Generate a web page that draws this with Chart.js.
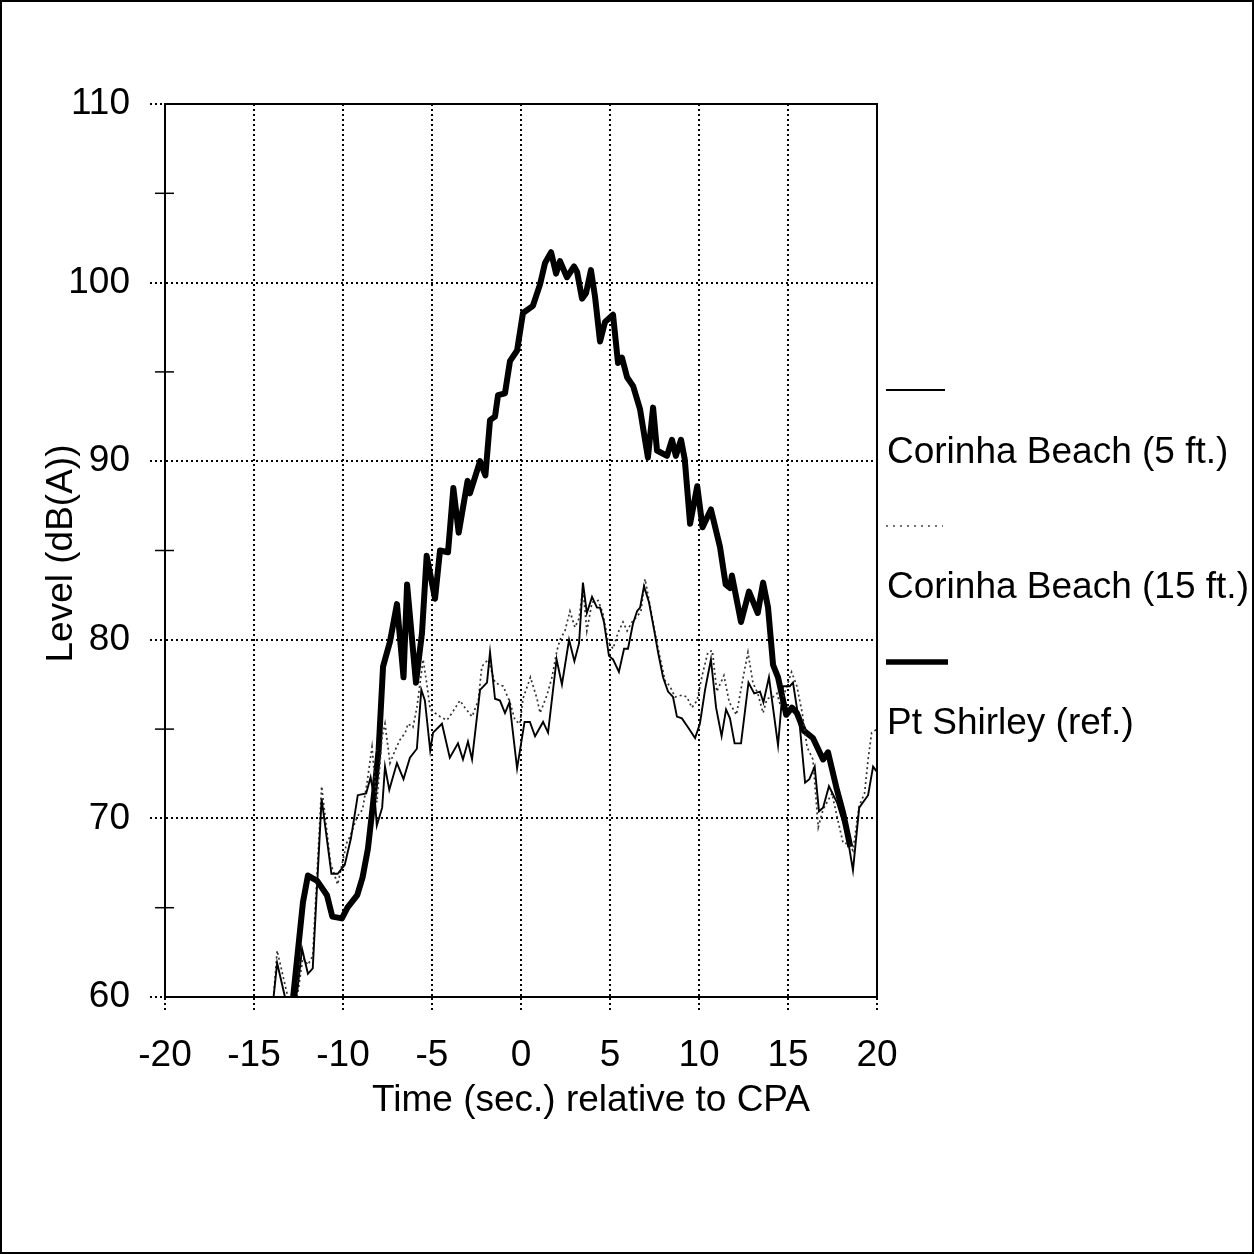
<!DOCTYPE html>
<html>
<head>
<meta charset="utf-8">
<style>
html,body{margin:0;padding:0;background:#fff;}
#wrap{width:1254px;height:1254px;}
</style>
<script src="https://cdn.jsdelivr.net/npm/chart.js@4/dist/chart.umd.min.js"></script>
</head>
<body>
<div id="wrap"><canvas id="c" width="1254" height="1254"></canvas></div>
<script>
// ---- Data (time in sec relative to CPA, level in dB(A)) ----
const xTicks = [-20, -15, -10, -5, 0, 5, 10, 15, 20];
const yTicks = [60, 70, 80, 90, 100, 110];

const beach5Time = [-14.2,-13.9,-13.7,-13.26,-12.9,-12.55,-12.3,-11.97,-11.7,-11.2,-10.65,-10.3,-9.9,-9.55,-9.17,-8.7,-8.45,-8.2,-8.1,-7.8,-7.64,-7.4,-6.97,-6.6,-6.24,-5.85,-5.6,-5.4,-5.1,-4.94,-4.44,-4.0,-3.54,-3.26,-2.98,-2.75,-2.3,-1.91,-1.74,-1.46,-1.18,-0.9,-0.65,-0.22,0.2,0.5,0.79,1.24,1.52,2.0,2.3,2.7,3.0,3.26,3.48,3.7,3.99,4.27,4.44,4.66,4.94,5.17,5.5,5.79,6.01,6.29,6.52,6.69,6.91,7.19,7.47,7.7,7.98,8.26,8.54,8.76,9.04,9.38,9.78,10.05,10.34,10.67,10.96,11.27,11.52,11.74,12.0,12.36,12.78,13.1,13.43,13.62,13.93,14.44,14.72,15.1,15.28,15.67,15.96,16.2,16.5,16.74,16.97,17.3,17.75,18.0,18.3,18.65,19.0,19.5,19.78,20.0];
const beach5Level = [58,60,61.9,60,58.5,60.5,62.7,61.3,61.6,71.1,66.9,66.9,67.4,68.9,71.3,71.4,72.3,70.9,69.6,70.6,72.9,71.6,73.1,72.2,73.4,73.9,77.2,76.6,73.8,74.8,75.3,73.4,74.2,73.3,74.3,73.3,77.2,77.6,79.3,76.7,76.6,75.9,76.5,72.8,75.4,75.4,74.6,75.4,74.8,78.9,77.5,80.0,78.8,79.8,83.2,81.5,82.4,81.8,81.8,81.0,79.1,78.9,78.2,79.5,79.5,80.9,81.6,81.8,83.0,82.1,80.6,79.3,77.9,77.1,76.8,75.7,75.6,75.1,74.5,75.3,77.2,78.9,76.2,74.6,76.1,75.6,74.2,74.2,77.6,77.0,77.1,76.5,77.9,74.1,77.4,77.4,77.6,75.1,72.0,72.2,72.9,70.4,70.6,71.8,70.9,70.1,69.2,67.1,70.6,71.3,72.9,72.6];

const beach15Time = [-14.2,-13.9,-13.7,-13.1,-12.85,-12.5,-12.25,-11.97,-11.7,-11.2,-10.7,-10.3,-9.8,-9.6,-9.2,-8.9,-8.65,-8.37,-8.1,-7.8,-7.64,-7.36,-7.08,-6.8,-6.5,-6.35,-6.07,-5.85,-5.5,-5.3,-5.1,-4.83,-4.55,-4.16,-3.88,-3.43,-3.15,-2.75,-2.4,-2.2,-1.85,-1.46,-1.0,-0.62,-0.34,-0.06,0.11,0.53,0.9,1.07,1.46,1.74,2.02,2.19,2.47,2.75,3.03,3.26,3.48,3.7,3.99,4.33,4.6,4.89,5.17,5.45,5.73,5.96,6.24,6.52,6.74,6.97,7.25,7.53,7.81,8.1,8.37,8.65,9.04,9.32,9.6,9.89,10.2,10.5,10.75,11.0,11.4,11.7,12.1,12.5,12.75,13.03,13.3,13.6,13.82,14.16,14.38,14.55,14.8,15.2,15.5,15.8,16.07,16.4,16.7,16.97,17.47,17.8,18.1,18.4,18.65,19.0,19.3,19.5,19.7,20.0];
const beach15Level = [58,60,62.6,60,58.5,60.5,62.2,61.8,62.3,71.8,67.5,66.3,68.6,69.0,70.1,70.5,72.0,74.0,70.9,74.6,75.3,73.1,73.8,74.4,74.8,75.3,75.1,76.2,78.9,77.6,76.1,75.9,75.7,75.5,75.9,76.6,76.2,75.7,76.6,78.5,78.9,77.6,77.4,76.5,75.5,75.3,76.7,77.9,76.7,75.9,76.9,77.9,79.4,80.0,80.5,81.6,80.7,81.2,82.9,80.5,82.1,82.2,81.5,79.9,79.5,80.4,81.0,80.5,81.0,81.3,81.6,83.4,81.9,80.4,79.0,77.7,77.4,76.8,76.9,76.8,76.2,76.6,78.1,79.3,79.4,77.1,78.0,76.5,75.8,78.0,79.3,77.6,77.0,75.9,76.7,76.8,77.0,76.4,77.0,78.2,77.4,75.9,74.0,73.3,69.5,70.5,71.4,69.9,68.6,68.6,68.2,70.7,71.4,73.3,74.8,75.0];

const shirleyTime = [-13.2,-12.8,-12.25,-11.97,-11.45,-10.9,-10.6,-10.06,-9.75,-9.2,-8.9,-8.6,-8.35,-8.0,-7.75,-7.36,-6.97,-6.6,-6.4,-5.9,-5.56,-5.3,-4.83,-4.55,-4.1,-3.8,-3.5,-3.0,-2.87,-2.3,-2.0,-1.74,-1.46,-1.29,-0.9,-0.62,-0.22,0.11,0.67,1.07,1.35,1.69,1.97,2.19,2.58,2.98,3.15,3.43,3.65,3.93,4.16,4.44,4.72,5.17,5.45,5.67,5.96,6.3,6.69,7.13,7.42,7.64,8.2,8.48,8.7,8.99,9.2,9.5,9.9,10.2,10.67,11.18,11.5,11.74,11.85,12.36,12.81,13.3,13.6,13.88,14.16,14.44,14.9,15.22,15.5,15.9,16.4,16.97,17.25,17.75,18.1,18.5];
const shirleyLevel = [58,60,65.3,66.8,66.5,65.7,64.5,64.4,65.0,65.7,66.7,68.3,70.5,73.8,78.5,79.9,82.0,77.9,83.1,77.6,80.4,84.7,82.3,85.0,84.9,88.5,86.0,88.9,88.2,90.0,89.2,92.3,92.5,93.7,93.8,95.6,96.2,98.3,98.7,99.9,101.1,101.7,100.5,101.2,100.3,100.9,100.6,99.1,99.4,100.7,99.2,96.7,97.8,98.2,95.5,95.8,94.7,94.2,92.9,90.2,93.0,90.6,90.3,91.2,90.3,91.2,90.1,86.5,88.6,86.3,87.3,85.2,83.1,82.9,83.6,81.0,82.7,81.5,83.2,81.8,78.6,77.9,75.8,76.2,75.9,74.9,74.5,73.3,73.7,71.6,70.3,68.4];

const seriesLabels = ['Corinha Beach (5 ft.)', 'Corinha Beach (15 ft.)', 'Pt Shirley (ref.)'];
const xTitle = 'Time (sec.) relative to CPA';
const yTitle = 'Level (dB(A))';

// ---- helpers ----
function pts(t, v) { return t.map((x, i) => ({ x: x, y: v[i] })); }
const FONT = "'Liberation Sans', Arial, Helvetica, sans-serif";
const FSIZE = 37;

const decorPlugin = {
  id: 'decor',
  beforeDraw(chart) {
    const ctx = chart.ctx;
    ctx.save();
    ctx.fillStyle = '#fff';
    ctx.fillRect(0, 0, chart.width, chart.height);
    ctx.restore();
  },
  afterDraw(chart) {
    const ctx = chart.ctx;
    const a = chart.chartArea;
    const ys = chart.scales.y;
    ctx.save();
    // page border
    ctx.strokeStyle = '#000';
    ctx.lineWidth = 2;
    ctx.strokeRect(1, 1, chart.width - 2, chart.height - 2);
    // plot frame
    ctx.lineWidth = 2;
    ctx.strokeRect(a.left, a.top, a.right - a.left, a.bottom - a.top);
    // minor ticks on y axis
    ctx.lineWidth = 1.5;
    [65, 75, 85, 95, 105].forEach(v => {
      const y = ys.getPixelForValue(v);
      ctx.beginPath();
      ctx.moveTo(a.left - 10, y);
      ctx.lineTo(a.left + 9, y);
      ctx.stroke();
    });
    // axis titles
    ctx.fillStyle = '#000';
    ctx.font = FSIZE + 'px ' + FONT;
    ctx.textAlign = 'center';
    ctx.textBaseline = 'alphabetic';
    ctx.fillText(xTitle, 591, 1111);
    ctx.save();
    ctx.translate(72, (a.top + a.bottom) / 2 + 3);
    ctx.rotate(-Math.PI / 2);
    ctx.fillText(yTitle, 0, 0);
    ctx.restore();
    // legend
    const lx = 886;
    ctx.textAlign = 'left';
    const items = [
      { y: 390, ty: 463, w: 1.8, dash: [], len: 59 },
      { y: 526, ty: 598, w: 1.6, dash: [2, 5], len: 57 },
      { y: 662, ty: 734, w: 5.5, dash: [], len: 62 }
    ];
    items.forEach((it, i) => {
      ctx.beginPath();
      ctx.setLineDash(it.dash);
      ctx.lineWidth = it.w;
      ctx.strokeStyle = i === 1 ? '#444' : '#000';
      ctx.moveTo(lx, it.y);
      ctx.lineTo(lx + it.len, it.y);
      ctx.stroke();
      ctx.setLineDash([]);
      ctx.fillText(seriesLabels[i], lx + 1, it.ty);
    });
    ctx.restore();
  }
};

const gridDash = [2, 3];

new Chart(document.getElementById('c'), {
  type: 'line',
  data: {
    datasets: [
      { label: seriesLabels[0], data: pts(beach5Time, beach5Level), borderColor: '#000', borderWidth: 1.9, pointRadius: 0, tension: 0, clip: 0 },
      { label: seriesLabels[1], data: pts(beach15Time, beach15Level), borderColor: '#333', borderWidth: 1.7, borderDash: [2, 3], pointRadius: 0, tension: 0, clip: 0 },
      { label: seriesLabels[2], data: pts(shirleyTime, shirleyLevel), borderColor: '#000', borderWidth: 6, pointRadius: 0, tension: 0, clip: 0, borderJoinStyle: 'round' }
    ]
  },
  options: {
    responsive: false,
    animation: false,
    events: [],
    layout: { padding: { top: 104, right: 377, left: 0, bottom: 0 } },
    plugins: { legend: { display: false }, tooltip: { enabled: false }, title: { display: false } },
    scales: {
      x: {
        type: 'linear',
        min: xTicks[0], max: xTicks[xTicks.length - 1],
        afterBuildTicks: s => { s.ticks = xTicks.map(v => ({ value: v })); },
        afterFit: s => { s.height = 257; },
        ticks: { color: '#000', font: { family: FONT, size: FSIZE }, padding: 22, maxRotation: 0, autoSkip: false },
        grid: { color: '#000', lineWidth: 2, tickLength: 15, tickColor: '#000', tickBorderDash: gridDash },
        border: { display: true, color: '#000', width: 2, dash: gridDash }
      },
      y: {
        type: 'linear',
        min: yTicks[0], max: yTicks[yTicks.length - 1],
        ticks: { stepSize: 5, color: '#000', font: { family: FONT, size: FSIZE }, padding: 20,
          callback: v => (v % 10 === 0 ? String(v) : '') },
        afterFit: s => { s.width = 165; },
        grid: {
          color: c => (c.tick && c.tick.value % 10 === 0 ? '#000' : 'rgba(0,0,0,0)'),
          tickColor: c => (c.tick && c.tick.value % 10 === 0 ? '#000' : 'rgba(0,0,0,0)'),
          lineWidth: 2, tickLength: 15, tickBorderDash: gridDash
        },
        border: { display: true, color: '#000', width: 2, dash: gridDash }
      }
    }
  },
  plugins: [decorPlugin]
});
</script>
</body>
</html>
